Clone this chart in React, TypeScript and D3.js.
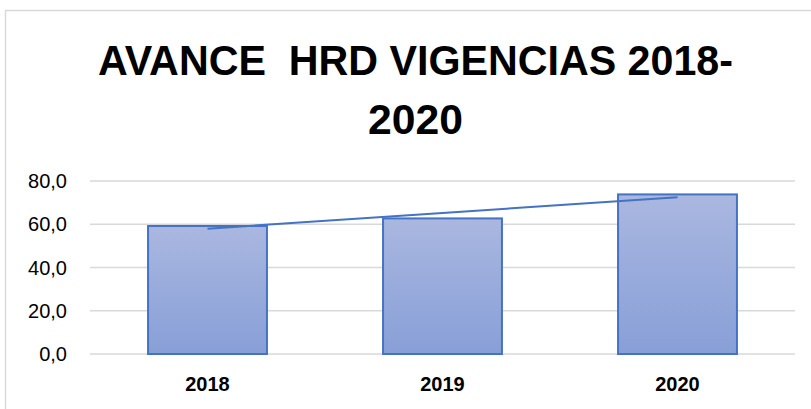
import React from "react";
import * as d3 from "d3";

const categories = ["2018", "2019", "2020"];
const values = [59.2, 62.7, 73.8];
const yTicks = [0, 20, 40, 60, 80];
const titleLines = ["AVANCE\u00a0 HRD VIGENCIAS 2018-", "2020"];

export default function App() {
  const W = 811, H = 409;
  const left = 90, right = 795, top = 181, bottom = 354;
  const x = d3.scaleBand<string>().domain(categories).range([left, right]).paddingInner(0.494).paddingOuter(0.247);
  const y = d3.scaleLinear().domain([0, 80]).range([bottom, top]);

  // linear trendline (least squares)
  const xs = values.map((_, i) => i);
  const mx = d3.mean(xs)!, my = d3.mean(values)!;
  const slope = d3.sum(xs.map((xi, i) => (xi - mx) * (values[i] - my))) / d3.sum(xs.map((xi) => (xi - mx) ** 2));
  const icpt = my - slope * mx;
  const cx = (c: string) => x(c)! + x.bandwidth() / 2;
  const trend = d3.line<number>()
    .x((i) => cx(categories[i]))
    .y((i) => y(icpt + slope * i));
  const fmt = (v: number) => v.toFixed(1).replace(".", ",");
  const font = "Liberation Sans, Arial, sans-serif";

  return (
    <svg width={W} height={H} style={{ position: "absolute", left: 0, top: 0, background: "#fff" }}>
      <defs>
        <linearGradient id="barGrad" x1="0" y1="0" x2="0" y2="1">
          <stop offset="0" stopColor="#aab7e0" />
          <stop offset="1" stopColor="#889fd7" />
        </linearGradient>
      </defs>
      <rect x={5.5} y={10.5} width={W + 20} height={H + 20} fill="#fff" stroke="#d9d9d9" strokeWidth={1.5} />
      <g fontFamily={font} fontWeight="bold" fill="#000" textAnchor="middle">
        <text x={415.5} y={75} fontSize={42} textLength={635} lengthAdjust="spacingAndGlyphs">{titleLines[0]}</text>
        <text x={415.5} y={134} fontSize={42} textLength={95} lengthAdjust="spacingAndGlyphs">{titleLines[1]}</text>
      </g>
      {yTicks.map((t) => (
        <g key={t}>
          <line x1={left} x2={right} y1={y(t)} y2={y(t)} stroke="#d9d9d9" strokeWidth={1.5} />
          <text x={67} y={y(t) + 7} textAnchor="end" fontSize={20} fontFamily={font} fill="#000">{fmt(t)}</text>
        </g>
      ))}
      {categories.map((c, i) => (
        <rect key={c} x={x(c)!} y={y(values[i])} width={x.bandwidth()} height={bottom - y(values[i])}
          fill="url(#barGrad)" stroke="#4472c4" strokeWidth={2} />
      ))}
      <path d={trend(xs) || ""} fill="none" stroke="#4472c4" strokeWidth={2} />
      {categories.map((c) => (
        <text key={c} x={cx(c)} y={391} textAnchor="middle" fontSize={20} fontWeight="bold" fontFamily={font} fill="#000">{c}</text>
      ))}
    </svg>
  );
}
